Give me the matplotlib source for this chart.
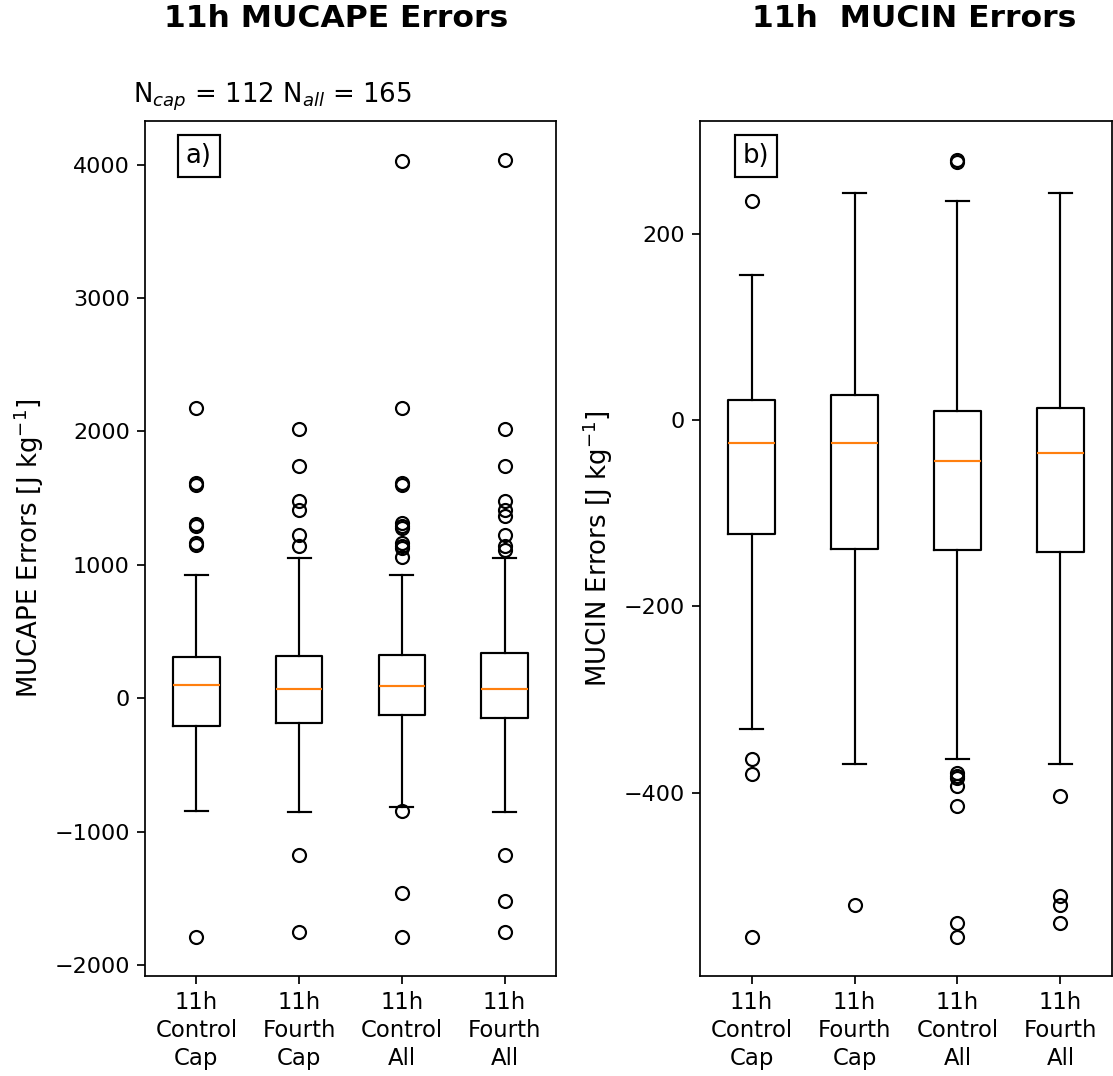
import numpy as np
import matplotlib
matplotlib.use("Agg")
import matplotlib.pyplot as plt

# box labels
labels = ["11h\nControl\nCap", "11h\nFourth\nCap", "11h\nControl\nAll", "11h\nFourth\nAll"]

# MUCAPE error box stats [J/kg]
cape_med = [100, 70, 90, 70]
cape_q1 = [-210, -188, -127, -150]
cape_q3 = [310, 317, 327, 340]
cape_lo = [-847, -855, -815, -855]
cape_hi = [922, 1047, 922, 1047]
cape_fliers = [
    [2174, 1612, 1600, 1305, 1290, 1160, 1145, -1792],
    [2014, 1744, 1477, 1414, 1222, 1139, -1179, -1752],
    [4025, 2174, 1612, 1600, 1310, 1290, 1275, 1160, 1140, 1125, 1059, -847, -1459, -1792],
    [4035, 2014, 1744, 1477, 1414, 1364, 1222, 1139, 1109, -1179, -1522, -1752],
]

# MUCIN error box stats [J/kg]
cin_med = [-25, -25, -44, -36]
cin_q1 = [-122, -139, -140, -142]
cin_q3 = [21, 27, 10, 13]
cin_lo = [-332, -369, -364, -369]
cin_hi = [155, 244, 235, 244]
cin_fliers = [
    [235, -364, -380, -555],
    [-521],
    [279, 277, -379, -382, -384, -393, -414, -540, -555],
    [-404, -511, -521, -540],
]

n_cap = 112
n_all = 165


def make_stats(med, q1, q3, lo, hi, fliers):
    out = []
    for i in range(len(labels)):
        out.append({"label": labels[i], "med": med[i], "q1": q1[i], "q3": q3[i],
                    "whislo": lo[i], "whishi": hi[i], "fliers": np.array(fliers[i])})
    return out


fig = plt.figure(figsize=(1113 / 156, 1076 / 156), dpi=156)
ax1 = fig.add_axes([0.1303, 0.0929, 0.3692, 0.7946])
ax2 = fig.add_axes([0.629, 0.0929, 0.370, 0.7946])

ax1.bxp(make_stats(cape_med, cape_q1, cape_q3, cape_lo, cape_hi, cape_fliers))
ax2.bxp(make_stats(cin_med, cin_q1, cin_q3, cin_lo, cin_hi, cin_fliers))

for ax in (ax1, ax2):
    ax.set_xlim(0.5, 4.5)
    ax.tick_params(axis="x", labelsize=10.5)
    ax.tick_params(axis="y", labelsize=10.3)
    for t in ax.get_xticklabels():
        t.set_linespacing(1.28)

ax1.set_ylabel("MUCAPE Errors [J kg$^{-1}$]", fontsize=12)
ax2.set_ylabel("MUCIN Errors [J kg$^{-1}$]", fontsize=12)

box = dict(boxstyle="square,pad=0.3", facecolor="white", edgecolor="black")
ax1.text(0.131, 0.959, "a)", transform=ax1.transAxes, fontsize=12,
         ha="center", va="center", bbox=box)
ax2.text(0.135, 0.959, "b)", transform=ax2.transAxes, fontsize=12,
         ha="center", va="center", bbox=box)

ax1.text(-0.03, 1.01, "N$_{cap}$ = %d N$_{all}$ = %d" % (n_cap, n_all),
         transform=ax1.transAxes, fontsize=12, ha="left", va="bottom")

fig.text(0.302, 0.983, "11h MUCAPE Errors", fontsize=14.5, fontweight="bold",
         ha="center", va="center")
fig.text(0.821, 0.983, "11h  MUCIN Errors", fontsize=14.5, fontweight="bold",
         ha="center", va="center")

plt.savefig("out.png", dpi=156)
